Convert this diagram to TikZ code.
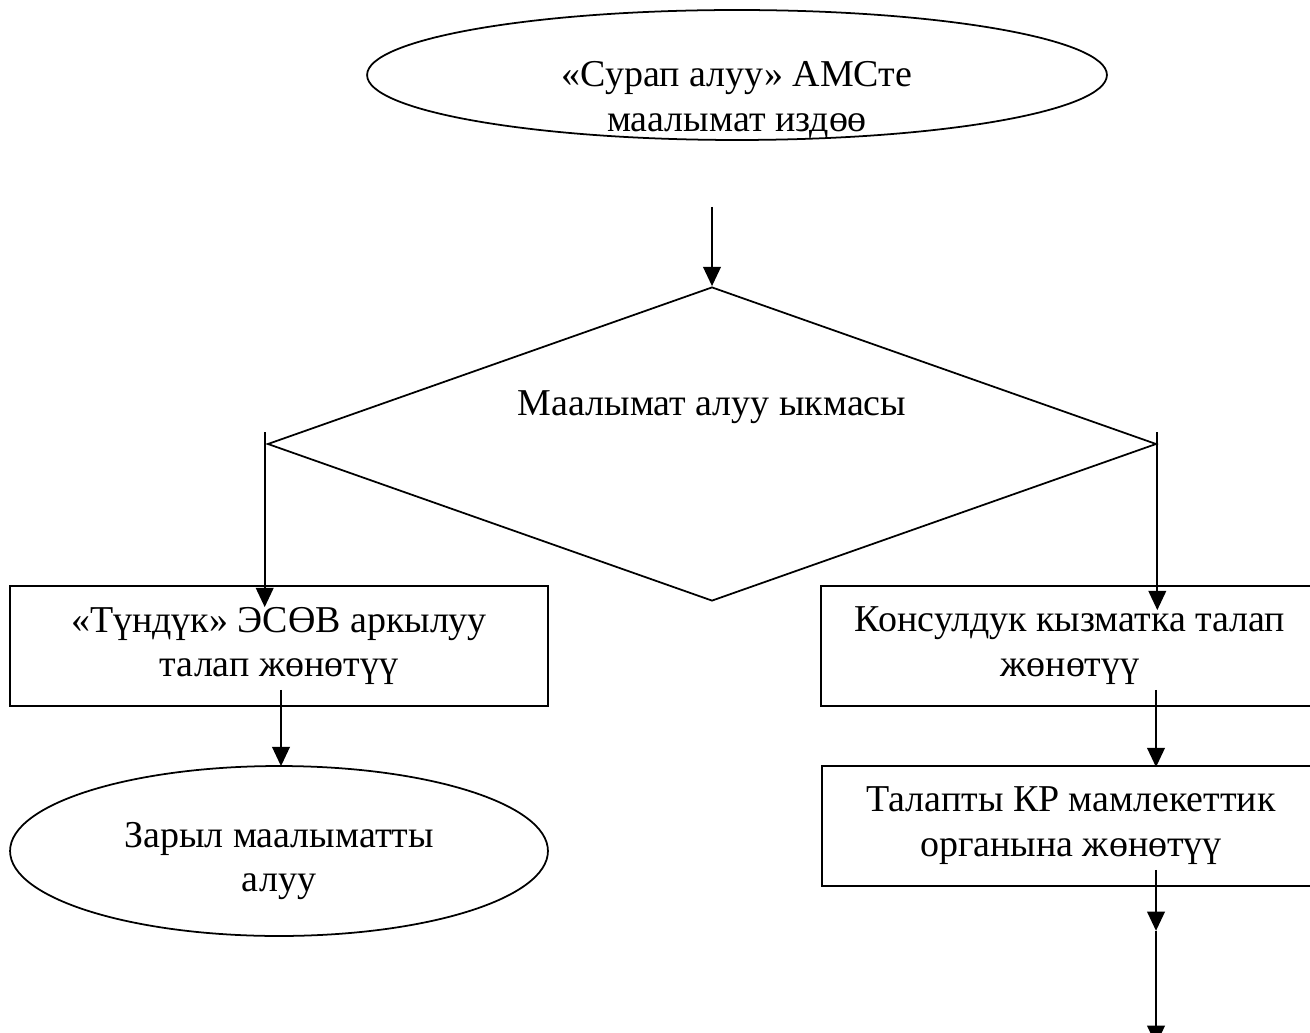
\documentclass[tikz,border=0pt]{standalone}
\usepackage{fontspec}
\setmainfont{Liberation Serif}
\usepackage{tikz}
\usetikzlibrary{shapes.geometric,arrows.meta,calc}

\tikzset{
  oval/.style={draw,ellipse,line width=1pt,inner sep=0pt},
  choicebox/.style={draw,diamond,line width=1pt,inner sep=0pt},
  stepbox/.style={draw,rectangle,line width=1pt,align=center,
    font=\fontsize{21.6}{25.5}\selectfont},
  txt/.style={align=center,font=\fontsize{21.6}{25.5}\selectfont},
  arr/.style={-{Triangle[length=11pt,width=10pt]},line width=1.3pt}
}

\begin{document}
\begin{tikzpicture}[x=0.02cm,y=-0.02cm]
\useasboundingbox (0,0) rectangle (1310,1033);

% top: search in the system
\node[oval,minimum width=14.8cm,minimum height=2.6cm] (query) at (737,75) {};
\node[txt] (querytext) at (737,100) {«Сурап алуу» АМСте\\маалымат издөө};

% choice of the way
\node[choicebox,minimum width=17.78cm,minimum height=6.28cm] (choice) at (712,444) {};
\node[txt] (choicetext) at (712,407) {Маалымат алуу ыкмасы};

% left branch
\node[stepbox,minimum width=10.76cm,minimum height=2.4cm] (tunduk) at (279,646)
  {«Түндүк» ЭСӨВ аркылуу\\талап жөнөтүү};
\node[oval,minimum width=10.76cm,minimum height=3.4cm] (result) at (279,851) {};
\node[txt] (resulttext) at (279,861) {Зарыл маалыматты\\алуу};

% right branch
\node[stepbox,minimum width=9.96cm,minimum height=2.4cm] (consul) at (1070,646)
  {Консулдук кызматка талап\\жөнөтүү};
\node[stepbox,minimum width=9.96cm,minimum height=2.4cm] (organ) at (1071,826)
  {Талапты КР мамлекеттик\\органына жөнөтүү};

% arrows
\coordinate (topstart) at (712,207);
\draw[arr] (topstart) -- (choice.north);

\coordinate (lefttop) at ($(choice.west)+(-2,-12)$);
\coordinate (lefttip) at ($(lefttop |- tunduk.north)+(0,22)$);
\draw[arr] (lefttop) -- (lefttip);

\coordinate (righttop) at ($(choice.east)+(0,-12)$);
\coordinate (righttip) at ($(righttop |- consul.north)+(0,25)$);
\draw[arr] (righttop) -- (righttip);

\draw[arr] ($(tunduk.south)+(2,-17)$) -- ($(result.north)+(2,1)$);

\coordinate (rx) at (1156,0);
\draw[arr] ($(rx |- consul.south)+(0,-17)$) -- ($(rx |- organ.north)+(0,2)$);

\coordinate (organout) at ($(rx |- organ.south)+(0,-17)$);
\coordinate (midtip) at ($(rx |- organ.south)+(0,44)$);
\coordinate (endtip) at ($(rx |- organ.south)+(0,158)$);
\draw[arr] (organout) -- (midtip);
\draw[arr] (midtip) -- (endtip);
\end{tikzpicture}
\end{document}
